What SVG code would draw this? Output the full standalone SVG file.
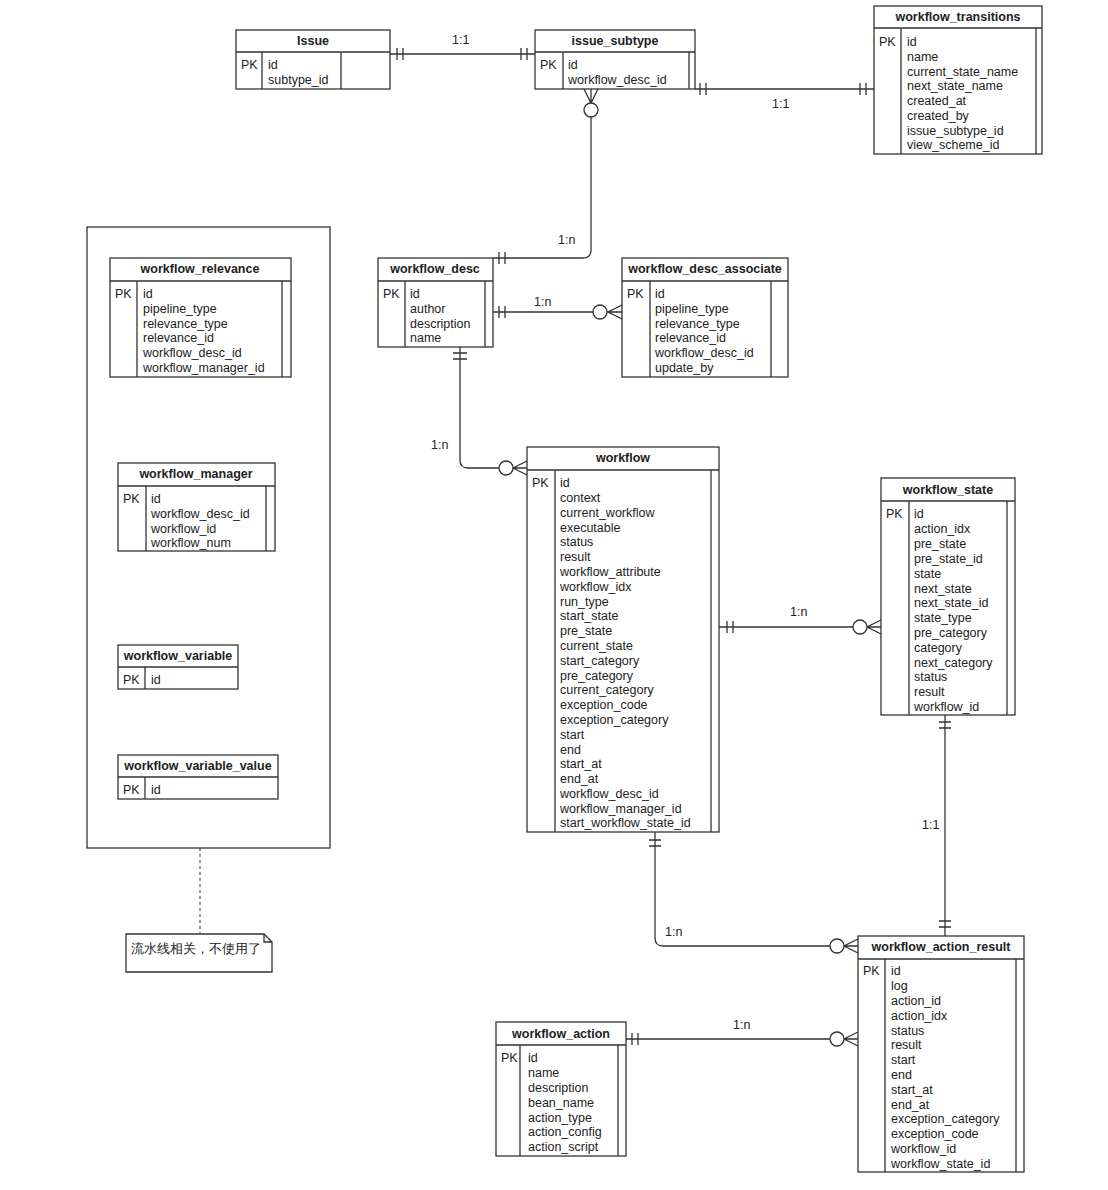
<svg xmlns="http://www.w3.org/2000/svg" width="1108" height="1190" viewBox="0 0 1108 1190">
<style>
.b{fill:#fff;stroke:#333;stroke-width:1.3}
.l{fill:none;stroke:#333;stroke-width:1.3}
text{font-family:"Liberation Sans",Arial,sans-serif;font-size:12.5px;fill:#222}
.h{font-weight:bold;text-anchor:middle}
.c{fill:#fff;stroke:#333;stroke-width:1.3}
</style>
<rect width="1108" height="1190" fill="#fff"/>
<g id="Issue"><rect class="b" x="236" y="30" width="154" height="59"/><path class="l" d="M236 52H390M262 52V89M341 52V89"/><text class="h" x="313" y="45">Issue</text><text x="241" y="69">PK</text><text x="268" y="69">id</text><text x="268" y="84">subtype_id</text></g>
<g id="issue_subtype"><rect class="b" x="535" y="30" width="160" height="59"/><path class="l" d="M535 52H695M563 52V89M689 52V89"/><text class="h" x="615" y="45">issue_subtype</text><text x="540" y="69">PK</text><text x="568" y="69">id</text><text x="568" y="84">workflow_desc_id</text></g>
<g id="workflow_transitions"><rect class="b" x="874" y="6" width="168" height="148"/><path class="l" d="M874 28H1042M901 28V154M1036 28V154"/><text class="h" x="958" y="21">workflow_transitions</text><text x="879" y="46">PK</text>
<text x="907" y="46">id</text><text x="907" y="61">name</text><text x="907" y="75.5">current_state_name</text><text x="907" y="90">next_state_name</text><text x="907" y="105">created_at</text><text x="907" y="120">created_by</text><text x="907" y="134.5">issue_subtype_id</text><text x="907" y="149">view_scheme_id</text></g>
<rect class="b" x="87" y="227" width="243" height="621"/>
<g id="workflow_relevance"><rect class="b" x="110" y="258" width="181" height="119"/><path class="l" d="M110 281H291M137 281V377M282 281V377"/><text class="h" x="200" y="273">workflow_relevance</text><text x="115" y="298">PK</text>
<text x="143" y="298">id</text><text x="143" y="313">pipeline_type</text><text x="143" y="327.5">relevance_type</text><text x="143" y="342">relevance_id</text><text x="143" y="357">workflow_desc_id</text><text x="143" y="372">workflow_manager_id</text></g>
<g id="workflow_manager"><rect class="b" x="118" y="463" width="157" height="88"/><path class="l" d="M118 486H275M146 486V551M266 486V551"/><text class="h" x="196" y="478">workflow_manager</text><text x="123" y="503">PK</text>
<text x="151" y="503">id</text><text x="151" y="518">workflow_desc_id</text><text x="151" y="532.5">workflow_id</text><text x="151" y="547">workflow_num</text></g>
<g id="workflow_variable"><rect class="b" x="118" y="645" width="120" height="44"/><path class="l" d="M118 667H238M145 667V689"/><text class="h" x="178" y="660">workflow_variable</text><text x="123" y="684">PK</text><text x="151" y="684">id</text></g>
<g id="workflow_variable_value"><rect class="b" x="118" y="755" width="160" height="44"/><path class="l" d="M118 777H278M145 777V799"/><text class="h" x="198" y="770">workflow_variable_value</text><text x="123" y="794">PK</text><text x="151" y="794">id</text></g>
<g id="note"><path class="b" d="M126 934H264L272 942V972H126Z"/><path class="l" d="M264 934V942H272"/><text x="131" y="953" font-family="Liberation Sans,Noto Sans CJK SC,sans-serif">流水线相关，不使用了</text></g>
<g id="workflow_desc"><rect class="b" x="378" y="258" width="115" height="89"/><path class="l" d="M378 281H493M405 281V347M485 281V347"/><text class="h" x="435" y="273">workflow_desc</text><text x="383" y="298">PK</text>
<text x="410" y="298">id</text><text x="410" y="313">author</text><text x="410" y="327.5">description</text><text x="410" y="342">name</text></g>
<g id="workflow_desc_associate"><rect class="b" x="622" y="258" width="166" height="119"/><path class="l" d="M622 281H788M650 281V377M771 281V377"/><text class="h" x="705" y="273">workflow_desc_associate</text><text x="627" y="298">PK</text>
<text x="655" y="298">id</text><text x="655" y="313">pipeline_type</text><text x="655" y="327.5">relevance_type</text><text x="655" y="342">relevance_id</text><text x="655" y="357">workflow_desc_id</text><text x="655" y="372">update_by</text></g>
<g id="workflow"><rect class="b" x="527" y="447" width="192" height="385"/><path class="l" d="M527 470H719M555 470V832M711 470V832"/><text class="h" x="623" y="462">workflow</text><text x="532" y="487">PK</text>
<text x="560" y="487">id</text><text x="560" y="502">context</text><text x="560" y="516.5">current_workflow</text><text x="560" y="531.5">executable</text><text x="560" y="546">status</text><text x="560" y="561">result</text><text x="560" y="576">workflow_attribute</text><text x="560" y="590.5">workflow_idx</text><text x="560" y="605.5">run_type</text><text x="560" y="620">start_state</text><text x="560" y="635">pre_state</text><text x="560" y="650">current_state</text><text x="560" y="664.5">start_category</text><text x="560" y="679.5">pre_category</text><text x="560" y="694">current_category</text><text x="560" y="709">exception_code</text><text x="560" y="724">exception_category</text><text x="560" y="738.5">start</text><text x="560" y="753.5">end</text><text x="560" y="768">start_at</text><text x="560" y="783">end_at</text><text x="560" y="797.5">workflow_desc_id</text><text x="560" y="812.5">workflow_manager_id</text><text x="560" y="827">start_workflow_state_id</text></g>
<g id="workflow_state"><rect class="b" x="881" y="478" width="134" height="237"/><path class="l" d="M881 501H1015M909 501V715M1007 501V715"/><text class="h" x="948" y="494">workflow_state</text><text x="886" y="518">PK</text>
<text x="914" y="518">id</text><text x="914" y="533">action_idx</text><text x="914" y="548">pre_state</text><text x="914" y="563">pre_state_id</text><text x="914" y="577.5">state</text><text x="914" y="592.5">next_state</text><text x="914" y="607">next_state_id</text><text x="914" y="622">state_type</text><text x="914" y="637">pre_category</text><text x="914" y="651.5">category</text><text x="914" y="666.5">next_category</text><text x="914" y="681">status</text><text x="914" y="696">result</text><text x="914" y="710.5">workflow_id</text></g>
<g id="workflow_action_result"><rect class="b" x="858" y="936" width="166" height="236"/><path class="l" d="M858 959H1024M885 959V1172M1016 959V1172"/><text class="h" x="941" y="951">workflow_action_result</text><text x="863" y="975">PK</text>
<text x="891" y="975">id</text><text x="891" y="990">log</text><text x="891" y="1005">action_id</text><text x="891" y="1019.5">action_idx</text><text x="891" y="1034.5">status</text><text x="891" y="1049">result</text><text x="891" y="1064">start</text><text x="891" y="1079">end</text><text x="891" y="1093.5">start_at</text><text x="891" y="1108.5">end_at</text><text x="891" y="1123">exception_category</text><text x="891" y="1138">exception_code</text><text x="891" y="1152.5">workflow_id</text><text x="891" y="1167.5">workflow_state_id</text></g>
<g id="workflow_action"><rect class="b" x="496" y="1022" width="130" height="134"/><path class="l" d="M496 1045H626M520 1045V1156M618 1045V1156"/><text class="h" x="561" y="1038">workflow_action</text><text x="501" y="1062">PK</text>
<text x="528" y="1062">id</text><text x="528" y="1077">name</text><text x="528" y="1092">description</text><text x="528" y="1106.5">bean_name</text><text x="528" y="1121.5">action_type</text><text x="528" y="1136">action_config</text><text x="528" y="1151">action_script</text></g>
<g id="connectors">
<path class="l" d="M390 54H535M397 48V60M403 48V60M521 48V60M527 48V60"/>
<text x="452" y="44">1:1</text>
<path class="l" d="M695 89H874M700 83V95M706 83V95M860 83V95M866 83V95"/>
<text x="772" y="108">1:1</text>
<path class="l" d="M591 117V250Q591 258 583 258H493M499 252V264M505 252V264M584 89L591 103L598 89M591 89V103"/>
<circle class="c" cx="591" cy="110" r="7"/>
<text x="558" y="244">1:n</text>
<path class="l" d="M493 312H593M499 306V318M505 306V318M607 312H622M622 305L608 312L622 319"/>
<circle class="c" cx="600" cy="312" r="7"/>
<text x="534" y="306">1:n</text>
<path class="l" d="M460 347V460Q460 468 468 468H499M453 353H467M453 359H467M513 468H527M527 461L513 468L527 475"/>
<circle class="c" cx="506" cy="468" r="7"/>
<text x="431" y="449">1:n</text>
<path class="l" d="M719 627H853M727 621V633M733 621V633M867 627H881M881 620L867 627L881 634"/>
<circle class="c" cx="860" cy="627" r="7"/>
<text x="790" y="616">1:n</text>
<path class="l" d="M945 715V936M939 722H951M939 728H951M939 921H951M939 927H951"/>
<text x="922" y="829">1:1</text>
<path class="l" d="M655 832V938Q655 946 663 946H830M649 840H661M649 846H661M844 946H858M858 939L844 946L858 953"/>
<circle class="c" cx="837" cy="946" r="7"/>
<text x="665" y="936">1:n</text>
<path class="l" d="M626 1039H830M632 1033V1045M638 1033V1045M844 1039H858M858 1032L844 1039L858 1046"/>
<circle class="c" cx="837" cy="1039" r="7"/>
<text x="733" y="1029">1:n</text>
<path d="M200 848V934" fill="none" stroke="#333" stroke-width="1" stroke-dasharray="3,3"/>
</g>
</svg>
